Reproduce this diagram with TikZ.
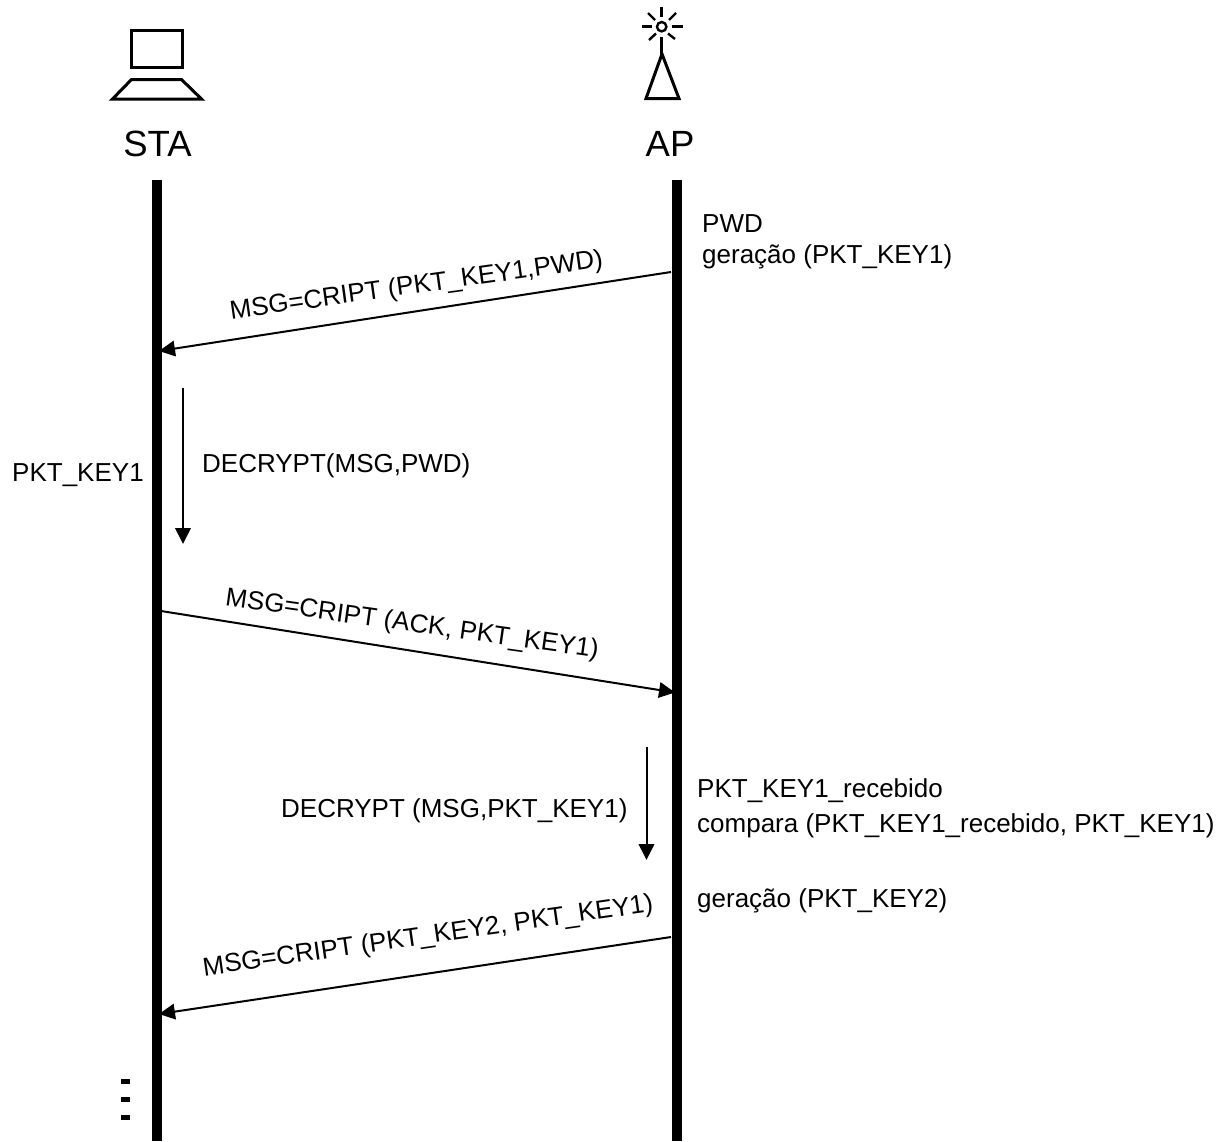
\documentclass[tikz,border=0pt]{standalone}
\usepackage{fontspec}
\setmainfont{Liberation Sans}
\usetikzlibrary{arrows.meta}
\tikzset{
  x=1pt,y=-1pt,
  lifeline/.style={line width=10pt},
  msg/.style={line width=2pt,-{Triangle[length=16pt,width=15.5pt]}},
  icon/.style={line width=3pt,line join=miter},
  ray/.style={line width=2.4pt},
  lbl/.style={inner sep=0pt,font=\fontsize{26}{31}\selectfont},
  head/.style={inner sep=0pt,font=\fontsize{36.5}{42}\selectfont},
  dot/.style={fill=black,draw=none}
}
\begin{document}
\begin{tikzpicture}
\useasboundingbox (0,0) rectangle (1226,1141);
% lifelines
\coordinate (staT) at (157,180); \coordinate (staB) at (157,1141);
\coordinate (apT) at (676.5,180); \coordinate (apB) at (676.5,1141);
\draw[lifeline] (staT) -- (staB);
\draw[lifeline] (apT) -- (apB);
% STA icon
\draw[icon] (131.5,30) rectangle (182,67.5);
\draw[icon] (131.5,79.5) -- (181.5,79.5) -- (201.5,99) -- (112.5,99) -- cycle;
\node[head] (sta) at (157.5,144) {STA};
% AP icon
\draw[ray] (661.7,26.7) circle (4.7);
\draw[ray] (661.5,7) -- (661.5,17);
\draw[ray] (661.5,37) -- (661.5,54);
\draw[ray] (642,26.5) -- (652,26.5);
\draw[ray] (672,26.5) -- (682.5,26.5);
\draw[ray] (648,13) -- (655,20);
\draw[ray] (676,13) -- (669,20);
\draw[ray] (649,40) -- (656,33.5);
\draw[ray] (675,39) -- (668,33.5);
\draw[icon] (662,54) -- (679,98.5) -- (646,98.5) -- cycle;
\node[head] (ap) at (670,144) {AP};
% messages
\coordinate (m1a) at (671,272); \coordinate (m1b) at (159,351);
\draw[msg] (m1a) -- (m1b);
\coordinate (m2a) at (161,611); \coordinate (m2b) at (675,692.5);
\draw[msg] (m2a) -- (m2b);
\coordinate (m3a) at (671,937); \coordinate (m3b) at (159,1014);
\draw[msg] (m3a) -- (m3b);
\coordinate (d1a) at (183,388); \coordinate (d1b) at (183,544);
\draw[msg] (d1a) -- (d1b);
\coordinate (d2a) at (646.5,747); \coordinate (d2b) at (646.5,860);
\draw[msg] (d2a) -- (d2b);
% labels
\node[lbl,rotate=8] (l1) at (416.5,286.5) {MSG=CRIPT (PKT\_KEY1,PWD)};
\node[lbl,rotate=-8] (l2) at (412,625) {MSG=CRIPT (ACK, PKT\_KEY1)};
\node[lbl,rotate=8.2] (l3) at (428,937) {MSG=CRIPT (PKT\_KEY2, PKT\_KEY1)};
\node[lbl,anchor=west] (t1) at (702,224) {PWD};
\node[lbl,anchor=west] (t2) at (702,257) {geração (PKT\_KEY1)};
\node[lbl,anchor=west] (t3) at (12,475) {PKT\_KEY1};
\node[lbl,anchor=west] (t4) at (202,466) {DECRYPT(MSG,PWD)};
\node[lbl,anchor=west] (t5) at (281,811) {DECRYPT (MSG,PKT\_KEY1)};
\node[lbl,anchor=west] (t6) at (697,791) {PKT\_KEY1\_recebido};
\node[lbl,anchor=west] (t7) at (697,826) {compara (PKT\_KEY1\_recebido, PKT\_KEY1)};
\node[lbl,anchor=west] (t8) at (697,901) {geração (PKT\_KEY2)};
% ellipsis
\fill[dot] (121,1079) rectangle (130,1084);
\fill[dot] (121,1097) rectangle (130,1102);
\fill[dot] (121,1115) rectangle (130,1120);
\end{tikzpicture}
\end{document}
